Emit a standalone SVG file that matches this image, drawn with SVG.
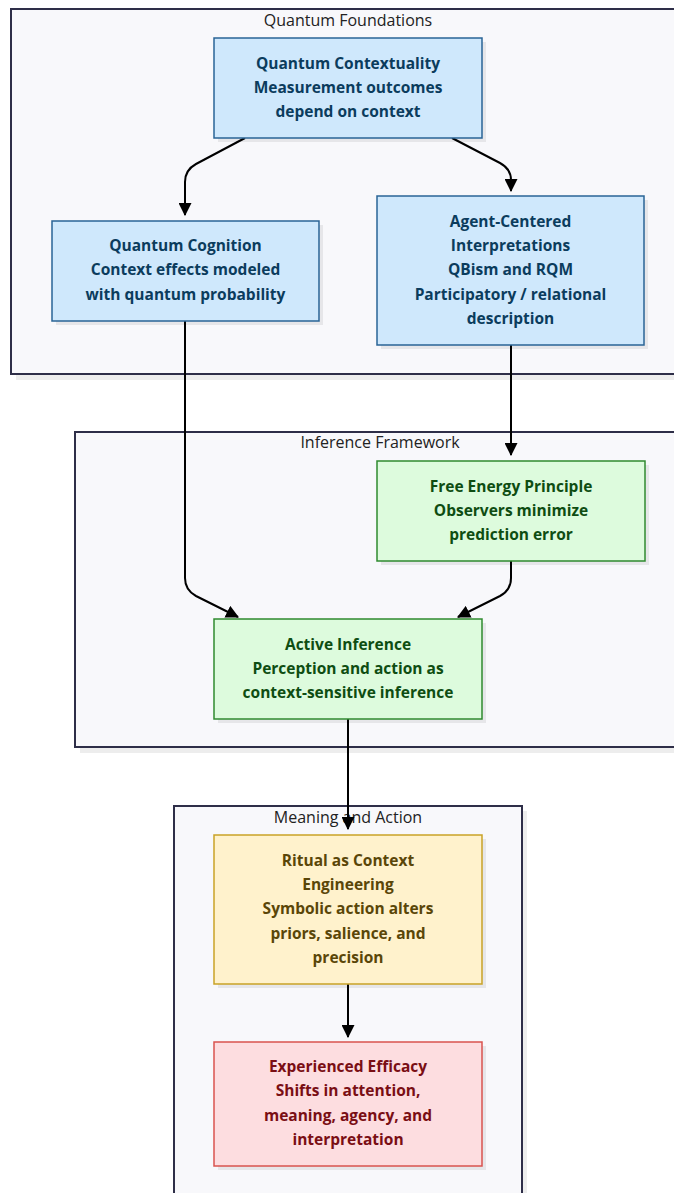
<svg xmlns="http://www.w3.org/2000/svg" width="674" height="1193" viewBox="0 0 674 1193">
<style>
.cl{fill:#f8f8fb;stroke:#2e2e48;stroke-width:2}
.sh{fill:#000;opacity:0.07}
.lbl{font-family:"Open Sans","Liberation Sans",sans-serif;font-size:16px;fill:#222;text-anchor:middle}
.t{font-family:"Open Sans","Liberation Sans",sans-serif;font-size:15.5px;font-weight:bold;text-anchor:middle}
.blue rect.n{fill:#cfe8fc;stroke:#2a6496;stroke-width:1.5}
.blue text{fill:#0b3c5d}
.green rect.n{fill:#ddfbdd;stroke:#2f8a2f;stroke-width:1.5}
.green text{fill:#0e4d12}
.yellow rect.n{fill:#fff2cc;stroke:#c9a227;stroke-width:1.5}
.yellow text{fill:#5a4608}
.red rect.n{fill:#fddde0;stroke:#d9534f;stroke-width:1.5}
.red text{fill:#7a0e14}
.e{fill:none;stroke:#000;stroke-width:2}
</style>
<defs>
<marker id="ah" viewBox="0 0 12 12" refX="11" refY="6" markerWidth="13" markerHeight="13" markerUnits="userSpaceOnUse" orient="auto">
<path d="M0,0 L12,6 L0,12 Z" fill="#000"/>
</marker>
</defs>
<rect width="674" height="1193" fill="#ffffff"/>

<g id="cluster-quantum-foundations">
<rect class="sh" x="16" y="14" width="670" height="366"/>
<rect class="cl" x="11" y="9" width="670" height="365"/>
<text class="lbl" x="348" y="26">Quantum Foundations</text>
</g>
<g id="cluster-inference-framework">
<rect class="sh" x="80" y="437" width="610" height="316"/>
<rect class="cl" x="75" y="432" width="610" height="315"/>
<text class="lbl" x="380" y="448">Inference Framework</text>
</g>
<g id="cluster-meaning-and-action">
<rect class="sh" x="179" y="811" width="348" height="400"/>
<rect class="cl" x="174" y="806" width="348" height="400"/>
<text class="lbl" x="348" y="823">Meaning and Action</text>
</g>

<g id="connectors">
<path class="e" d="M245,138 L196,164 Q185,170 185,182 L185,215" marker-end="url(#ah)"/>
<path class="e" d="M452,138 L500,163 Q511,169 511,180 L511,191" marker-end="url(#ah)"/>
<path class="e" d="M185,321 L185,578 Q185,590 196,596 L238,617" marker-end="url(#ah)"/>
<path class="e" d="M511,345 L511,455" marker-end="url(#ah)"/>
<path class="e" d="M511,561 L511,578 Q511,590 500,596 L458,617" marker-end="url(#ah)"/>
<path class="e" d="M348,719 L348,829" marker-end="url(#ah)"/>
<path class="e" d="M348,984 L348,1037" marker-end="url(#ah)"/>
</g>

<g id="node-quantum-contextuality" class="blue">
<rect class="sh" x="218" y="42" width="268" height="100"/>
<rect class="n" x="214" y="38" width="268" height="100"/>
<text class="t" x="348" y="69">Quantum Contextuality</text>
<text class="t" x="348" y="93">Measurement outcomes</text>
<text class="t" x="348" y="117">depend on context</text>
</g>

<g id="node-quantum-cognition" class="blue">
<rect class="sh" x="56" y="225" width="267" height="100"/>
<rect class="n" x="52" y="221" width="267" height="100"/>
<text class="t" x="185.5" y="251">Quantum Cognition</text>
<text class="t" x="185.5" y="275">Context effects modeled</text>
<text class="t" x="185.5" y="300">with quantum probability</text>
</g>

<g id="node-agent-centered" class="blue">
<rect class="sh" x="381" y="200" width="267" height="149"/>
<rect class="n" x="377" y="196" width="267" height="149"/>
<text class="t" x="510.5" y="227">Agent-Centered</text>
<text class="t" x="510.5" y="251">Interpretations</text>
<text class="t" x="510.5" y="275">QBism and RQM</text>
<text class="t" x="510.5" y="300">Participatory / relational</text>
<text class="t" x="510.5" y="324">description</text>
</g>

<g id="node-free-energy" class="green">
<rect class="sh" x="381" y="465" width="268" height="100"/>
<rect class="n" x="377" y="461" width="268" height="100"/>
<text class="t" x="511" y="492">Free Energy Principle</text>
<text class="t" x="511" y="516">Observers minimize</text>
<text class="t" x="511" y="540">prediction error</text>
</g>

<g id="node-active-inference" class="green">
<rect class="sh" x="218" y="623" width="268" height="100"/>
<rect class="n" x="214" y="619" width="268" height="100"/>
<text class="t" x="348" y="650">Active Inference</text>
<text class="t" x="348" y="674">Perception and action as</text>
<text class="t" x="348" y="698">context-sensitive inference</text>
</g>

<g id="node-ritual" class="yellow">
<rect class="sh" x="218" y="839" width="268" height="149"/>
<rect class="n" x="214" y="835" width="268" height="149"/>
<text class="t" x="348" y="866">Ritual as Context</text>
<text class="t" x="348" y="890">Engineering</text>
<text class="t" x="348" y="914">Symbolic action alters</text>
<text class="t" x="348" y="939">priors, salience, and</text>
<text class="t" x="348" y="963">precision</text>
</g>

<g id="node-experienced-efficacy" class="red">
<rect class="sh" x="218" y="1046" width="268" height="124"/>
<rect class="n" x="214" y="1042" width="268" height="124"/>
<text class="t" x="348" y="1072">Experienced Efficacy</text>
<text class="t" x="348" y="1096">Shifts in attention,</text>
<text class="t" x="348" y="1121">meaning, agency, and</text>
<text class="t" x="348" y="1145">interpretation</text>
</g>
</svg>
